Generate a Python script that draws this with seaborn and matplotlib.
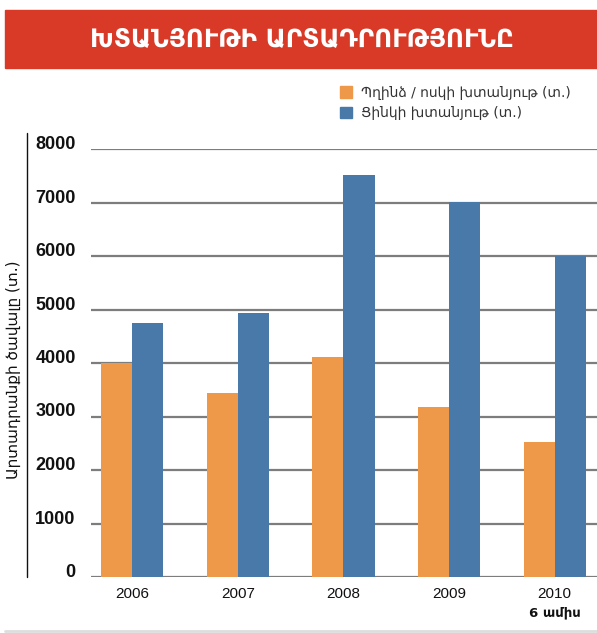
import matplotlib
matplotlib.use("Agg")
import matplotlib.pyplot as plt
import matplotlib.patches as mpatches
from matplotlib.lines import Line2D
import pandas as pd
import seaborn as sns

years = ["2006", "2007", "2008", "2009", "2010"]
copper_gold = [4000, 3430, 4110, 3170, 2520]
zinc = [4750, 4940, 7510, 7010, 6000]
series_names = ["Պղինձ / ոսկի խտանյութ (տ.)", "Ցինկի խտանյութ (տ.)"]
y_ticks = [0, 1000, 2000, 3000, 4000, 5000, 6000, 7000, 8000]

title = "ԽՏԱՆՅՈՒԹԻ ԱՐՏԱԴՐՈՒԹՅՈՒՆԸ"
y_label = "Արտադրանքի ծավալը (տ.)"
note_2010 = "6 ամիս"

colors = ["#EE984A", "#4879A8"]

df = pd.DataFrame({
    "year": years * 2,
    "value": copper_gold + zinc,
    "series": [series_names[0]] * len(years) + [series_names[1]] * len(years),
})

sns.set_theme(style="white")
plt.rcParams["font.family"] = ["Liberation Sans", "DejaVu Sans"]

fig = plt.figure(figsize=(5.97, 6.33), dpi=100)
ax = fig.add_axes([91 / 597, 1 - 577 / 633, 1 - 91 / 597, (577 - 149) / 633])

for y in y_ticks:
    ax.axhline(y, color="#7d7d7d", linewidth=1.6, zorder=0)

sns.barplot(
    data=df, x="year", y="value", hue="series", palette=colors,
    width=0.59, gap=0, dodge=True, saturation=1, linewidth=0,
    ax=ax, legend=False, zorder=2,
)

ax.set_xlim(-0.39, 4.40)
ax.set_ylim(0, 8000)
ax.set_xlabel("")
ax.set_ylabel("")
for spine in ax.spines.values():
    spine.set_visible(False)

ax.set_yticks(y_ticks)
ax.set_yticklabels([str(v) for v in y_ticks], fontweight="bold", fontsize=13, color="#111111")
ax.tick_params(axis="y", length=0, pad=11)
for lbl in ax.get_yticklabels():
    lbl.set_verticalalignment("baseline")
ax.tick_params(axis="x", length=0, pad=7, labelsize=11, labelcolor="#111111")

ax.text(4.0, -0.085, note_2010, transform=ax.get_xaxis_transform(),
        ha="center", va="center", fontsize=9.5, fontweight="bold",
        family=["DejaVu Sans"], color="#111111")

# banner
fig.add_artist(mpatches.Rectangle((5 / 597, 1 - 68 / 633), 1, 58 / 633,
                                  transform=fig.transFigure, color="#D93A28", zorder=0))
fig.text(0.506, 1 - 39 / 633, title, ha="center", va="center", color="white",
         fontsize=17.8, fontweight="bold", family=["DejaVu Sans"])

# y label with vertical rule
fig.text(13 / 597, 1 - 370 / 633, y_label, rotation=90, ha="center", va="center",
         fontsize=11, color="#111111", family=["DejaVu Sans"])
fig.add_artist(Line2D([27 / 597, 27 / 597], [1 - 133 / 633, 1 - 577 / 633],
                      transform=fig.transFigure, color="#111111", linewidth=1))

# bottom rule
fig.add_artist(Line2D([5 / 597, 1], [1 - 631 / 633, 1 - 631 / 633],
                      transform=fig.transFigure, color="#dddddd", linewidth=2))

handles = [mpatches.Patch(color=c) for c in colors]
fig.legend(handles, series_names, loc="upper left", bbox_to_anchor=(340 / 597, 1 - 86 / 633),
           frameon=False, handlelength=0.9, handleheight=0.9, handletextpad=0.6,
           labelspacing=0.45, borderpad=0, borderaxespad=0,
           prop={"family": ["DejaVu Sans"], "size": 10}, labelcolor="#333333")

fig.savefig("out.png", dpi=100)
